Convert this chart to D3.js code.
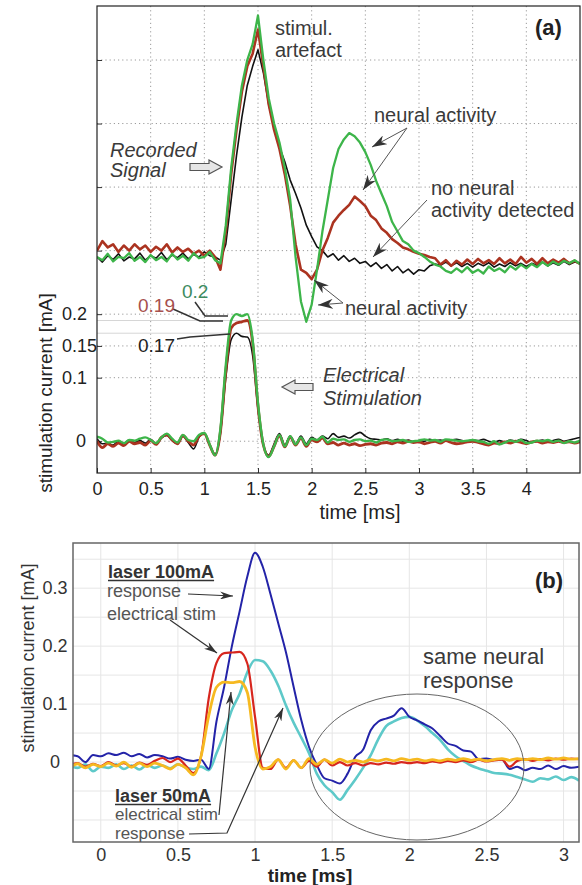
<!DOCTYPE html>
<html><head><meta charset="utf-8">
<script src="https://cdn.jsdelivr.net/npm/d3@7"></script>
<style>body{margin:0;background:#fff} svg{display:block} text{font-family:"Liberation Sans",Arial,Helvetica,sans-serif}</style>
</head><body><svg id="c" width="582" height="885"></svg>
<script>
// ---------------- DATA ----------------
// Panel (a): time base (ms), sampled every 0.05 ms from 0 to 4.5
const timeA = d3.range(0, 91).map(i => +(i * 0.05).toFixed(2));
const xTicksA = [0, 0.5, 1, 1.5, 2, 2.5, 3, 3.5, 4];
const yTicksA = [0, 0.1, 0.15, 0.2, 0.3, 0.4, 0.5, 0.6];
const yTickLabelsA = ["0", "0.1", "0.15", "0.2", "", "", "", ""];
const refLevelsA = [0.17, 0.19];

// Recorded signal (offset trace, drawn on the same axis)
const recGreen = [0.29,0.285,0.295,0.283,0.29,0.288,0.296,0.284,0.29,0.282,0.293,0.285,0.29,0.283,0.295,0.286,0.292,0.284,0.296,0.288,
 0.29,0.298,0.285,0.28,0.34,0.43,0.50,0.56,0.60,0.625,0.67,0.60,0.54,0.50,0.47,0.43,0.38,0.29,0.22,0.188,
 0.215,0.27,0.33,0.38,0.43,0.46,0.475,0.485,0.48,0.47,0.455,0.435,0.41,0.39,0.37,0.345,0.33,0.315,0.31,0.30,
 0.296,0.29,0.283,0.278,0.275,0.268,0.265,0.272,0.266,0.274,0.265,0.27,0.264,0.275,0.268,0.272,0.266,0.276,0.27,0.278,
 0.272,0.279,0.274,0.282,0.276,0.283,0.278,0.284,0.28,0.285,0.279];
const recRed = [0.30,0.315,0.305,0.31,0.298,0.308,0.30,0.31,0.302,0.308,0.298,0.306,0.30,0.31,0.297,0.305,0.298,0.303,0.295,0.30,
 0.292,0.30,0.29,0.27,0.33,0.42,0.49,0.55,0.59,0.61,0.648,0.59,0.53,0.49,0.46,0.42,0.37,0.31,0.27,0.265,
 0.255,0.27,0.30,0.32,0.344,0.355,0.364,0.372,0.385,0.378,0.37,0.355,0.348,0.335,0.328,0.318,0.312,0.305,0.302,0.298,
 0.295,0.293,0.29,0.288,0.278,0.285,0.276,0.284,0.278,0.286,0.279,0.287,0.28,0.285,0.279,0.288,0.28,0.286,0.279,0.29,
 0.281,0.287,0.279,0.288,0.28,0.286,0.281,0.287,0.28,0.284,0.279];
const recBlack = [0.29,0.282,0.292,0.286,0.295,0.284,0.29,0.287,0.296,0.285,0.292,0.288,0.297,0.286,0.293,0.289,0.296,0.287,0.294,0.29,
 0.298,0.292,0.29,0.285,0.31,0.38,0.45,0.51,0.56,0.59,0.616,0.58,0.53,0.495,0.463,0.44,0.411,0.39,0.367,0.34,
 0.322,0.306,0.30,0.29,0.295,0.285,0.292,0.283,0.288,0.28,0.283,0.275,0.281,0.272,0.278,0.268,0.275,0.265,0.271,0.263,
 0.27,0.268,0.276,0.279,0.277,0.282,0.276,0.281,0.275,0.28,0.274,0.28,0.276,0.281,0.274,0.279,0.275,0.281,0.276,0.28,
 0.275,0.28,0.277,0.282,0.276,0.281,0.277,0.283,0.278,0.282,0.28];

// Electrical stimulation current (mA)
const stimGreen = [0.007,0.004,-0.002,-0.001,0.001,-0.003,0.002,0.001,0.004,0.006,0.002,-0.003,0.006,0.012,0.004,-0.002,0.01,0.002,0.0,0.01,
 0.013,-0.005,-0.022,0.02,0.12,0.19,0.2,0.197,0.2,0.16,0.06,-0.005,-0.025,-0.008,0.01,-0.008,0.008,-0.005,0.006,-0.006,
 0.004,0.002,0.007,-0.002,0.004,0.002,0.003,-0.001,0.002,0.003,0.0,0.001,-0.002,0.002,0.003,0.0,0.001,0.002,-0.001,0.0,
 0.001,0.003,0.001,0.002,-0.001,0.003,0.002,0.001,0.0,0.001,0.002,0.0,-0.001,-0.004,0.0,-0.005,-0.002,0.001,-0.001,0.002,
 -0.003,-0.002,0.001,0.0,0.002,-0.001,0.001,-0.003,0.0,-0.002,0.001];
const stimRed = [0.0,-0.01,-0.004,-0.008,-0.003,-0.007,0.0,-0.004,-0.002,-0.006,0.001,-0.005,0.006,0.01,0.002,-0.004,0.009,0.0,-0.006,0.008,
 0.012,-0.006,-0.022,0.015,0.11,0.178,0.186,0.188,0.19,0.155,0.055,-0.006,-0.024,-0.008,0.009,-0.009,0.007,-0.006,0.005,-0.008,
 0.002,-0.001,0.005,-0.004,-0.002,-0.006,-0.003,-0.006,-0.004,-0.007,-0.005,-0.004,-0.006,-0.003,-0.002,-0.004,-0.001,-0.003,0.0,-0.002,
 -0.001,-0.004,-0.002,0.0,-0.003,0.001,-0.002,-0.004,-0.003,-0.001,0.0,-0.002,-0.004,-0.006,-0.003,-0.004,-0.001,-0.003,0.0,-0.002,
 -0.004,-0.001,0.0,-0.003,-0.001,-0.002,0.0,-0.002,-0.001,-0.003,-0.001];
const stimBlack = [0.004,-0.004,-0.003,-0.006,0.0,-0.004,0.002,-0.002,0.001,-0.003,0.003,-0.004,0.005,0.009,0.001,-0.004,0.008,-0.002,-0.012,0.006,
 0.013,-0.006,-0.02,0.012,0.1,0.16,0.17,0.165,0.164,0.135,0.05,-0.006,-0.022,-0.004,0.012,-0.006,0.008,-0.004,0.008,-0.004,
 0.006,0.002,0.008,0.004,0.012,0.006,0.008,0.005,0.01,0.014,0.008,0.004,0.003,0.002,0.004,0.001,0.003,0.0,0.002,-0.001,
 0.001,0.0,0.003,0.001,0.002,0.0,0.002,0.003,0.001,0.0,0.002,0.001,0.003,0.0,-0.002,0.001,-0.001,0.002,0.0,0.003,
 0.001,-0.002,0.0,0.002,-0.001,0.001,0.003,0.0,0.002,0.004,0.006];

// Panel (b): time base from -0.2 to 3.1 ms every 0.05 ms
const timeB = d3.range(0, 67).map(i => +(-0.2 + i * 0.05).toFixed(2));
const xTicksB = [0, 0.5, 1, 1.5, 2, 2.5, 3];
const yTicksB = [0, 0.1, 0.2, 0.3];
const yGridB = [-0.1, -0.05, 0, 0.05, 0.1, 0.15, 0.2, 0.25, 0.3, 0.35];

const resp100 = [0.012,0.01,0.0,0.012,0.01,0.015,0.012,0.016,0.01,0.014,0.008,0.012,0.01,0.006,0.009,0.004,0.002,0.004,-0.012,0.07,
 0.13,0.2,0.26,0.32,0.361,0.337,0.29,0.24,0.19,0.13,0.072,0.026,-0.005,-0.028,-0.032,-0.037,-0.02,0.009,0.021,0.055,
 0.07,0.075,0.08,0.093,0.078,0.072,0.065,0.058,0.045,0.032,0.028,0.02,0.018,0.005,0.006,0.004,0.005,-0.012,-0.008,-0.014,
 -0.01,-0.012,-0.006,-0.012,-0.007,-0.01,-0.008];
const resp50 = [-0.006,-0.01,-0.004,-0.016,-0.008,-0.01,-0.004,-0.012,-0.006,-0.013,-0.005,-0.01,-0.006,-0.011,-0.004,-0.009,-0.012,-0.008,-0.014,0.015,
 0.05,0.09,0.118,0.155,0.176,0.174,0.158,0.132,0.098,0.068,0.042,0.015,-0.02,-0.04,-0.052,-0.065,-0.048,-0.03,-0.01,0.012,
 0.04,0.062,0.07,0.076,0.078,0.072,0.062,0.05,0.038,0.022,0.01,0.002,-0.006,-0.011,-0.015,-0.019,-0.02,-0.022,-0.026,-0.03,
 -0.034,-0.028,-0.03,-0.025,-0.031,-0.026,-0.032];
const stim100 = [-0.005,-0.002,-0.008,-0.003,-0.007,0.0,-0.006,-0.002,-0.008,-0.001,-0.005,0.002,0.007,0.0,0.006,-0.006,-0.019,0.01,0.11,0.171,
 0.188,0.189,0.19,0.17,0.078,-0.01,-0.012,0.004,-0.01,0.003,-0.01,0.002,-0.008,0.004,-0.006,0.0,-0.006,-0.002,-0.006,-0.002,
 -0.004,-0.001,-0.003,0.0,-0.002,0.0,-0.002,0.001,-0.001,0.002,0.0,0.003,0.0,0.004,0.001,0.003,0.004,-0.008,0.002,0.005,
 0.002,0.005,0.003,0.006,0.004,0.006,0.005];
const stim50 = [-0.01,-0.003,-0.01,-0.004,-0.008,-0.002,-0.007,0.0,-0.009,-0.002,-0.008,-0.002,-0.006,-0.012,-0.004,-0.01,-0.022,0.01,0.08,0.129,
 0.138,0.137,0.139,0.12,0.026,-0.012,-0.008,0.004,-0.012,0.003,-0.01,0.006,-0.004,0.004,-0.002,0.005,0.0,0.003,0.0,0.004,
 0.002,0.005,0.002,0.006,0.003,0.005,0.002,0.004,0.002,0.005,0.003,0.006,0.003,0.005,0.002,0.004,0.006,0.003,0.006,0.004,
 0.006,0.004,0.007,0.005,0.007,0.005,0.006];

// ---------------- DRAWING ----------------
const svg = d3.select("#c");
const defs = svg.append("defs");
function marker(id, len, w, color) {
  defs.append("marker").attr("id", id).attr("markerUnits", "userSpaceOnUse")
    .attr("markerWidth", len).attr("markerHeight", w).attr("viewBox", `0 0 ${len} ${w}`)
    .attr("refX", len).attr("refY", w / 2).attr("orient", "auto")
    .append("path").attr("d", `M0,0 L${len},${w / 2} L0,${w} L${len * 0.3},${w / 2} Z`).attr("fill", color);
}
marker("arA", 15, 10, "#333");
marker("arB", 13, 8, "#333");

const FONT = '"Liberation Sans",Arial,Helvetica,sans-serif';
const cG = "#3db54a", cR = "#ab3320", cK = "#111";

// ===== Panel (a) =====
const xA = d3.scaleLinear([0, 4.5], [97, 580]);
const yA = d3.scaleLinear([-0.05, 0.685], [473, 6]);
defs.append("clipPath").attr("id", "clipA").append("rect")
  .attr("x", xA(0)).attr("y", yA(0.685)).attr("width", xA(4.5) - xA(0)).attr("height", yA(-0.05) - yA(0.685));

const gA = svg.append("g");
gA.selectAll(".vg").data(xTicksA.slice(1)).join("line")
  .attr("x1", d => xA(d)).attr("x2", d => xA(d)).attr("y1", yA(0.685)).attr("y2", yA(-0.05))
  .attr("stroke", "#9a9a9a").attr("stroke-width", 1).attr("stroke-dasharray", "1.2,3");
gA.selectAll(".hg").data(yTicksA).join("line")
  .attr("x1", xA(0)).attr("x2", xA(4.5)).attr("y1", d => yA(d)).attr("y2", d => yA(d))
  .attr("stroke", "#9a9a9a").attr("stroke-width", 1).attr("stroke-dasharray", "1.2,3");
gA.selectAll(".rl").data(refLevelsA).join("line")
  .attr("x1", xA(0)).attr("x2", xA(4.5)).attr("y1", d => yA(d)).attr("y2", d => yA(d))
  .attr("stroke", "#d6d6d6").attr("stroke-width", 1);

const axXA = gA.append("g").attr("transform", `translate(0,${yA(-0.05)})`)
  .call(d3.axisBottom(xA).tickValues(xTicksA).tickSize(-5).tickPadding(9).tickFormat(d3.format("")));
axXA.select(".domain").remove();
axXA.attr("font-family", FONT).attr("font-size", 18);
axXA.selectAll("text").attr("fill", "#222");
axXA.selectAll("line").attr("stroke", "#333");

const axYA = gA.append("g").attr("transform", `translate(${xA(0)},0)`)
  .call(d3.axisLeft(yA).tickValues(yTicksA).tickSize(-5).tickFormat((d, i) => yTickLabelsA[i]));
axYA.select(".domain").remove();
axYA.attr("font-family", FONT).attr("font-size", 18);
axYA.selectAll("line").attr("stroke", "#333");
axYA.selectAll("text").attr("fill", "#222").each(function (d) {
  const t = d3.select(this);
  if (d === 0) t.attr("text-anchor", "end").attr("x", -11);
  else t.attr("text-anchor", "start").attr("x", -35);
});

const lineA = d3.line().x((d, i) => xA(timeA[i])).y(d => yA(d));
const lineAs = d3.line().x((d, i) => xA(timeA[i])).y(d => yA(d)).curve(d3.curveMonotoneX);
const pA = gA.append("g").attr("clip-path", "url(#clipA)");
[[recBlack, cK, 1.6], [recRed, cR, 2.6], [recGreen, cG, 2.3]].forEach(([d, c, w]) =>
  pA.append("path").attr("d", lineA(d)).attr("fill", "none").attr("stroke", c).attr("stroke-width", w).attr("stroke-linejoin", "round"));
[[stimBlack, cK, 1.6], [stimRed, cR, 2.8], [stimGreen, cG, 2.4]].forEach(([d, c, w]) =>
  pA.append("path").attr("d", lineAs(d)).attr("fill", "none").attr("stroke", c).attr("stroke-width", w).attr("stroke-linejoin", "round"));

gA.append("rect").attr("x", xA(0)).attr("y", yA(0.685)).attr("width", xA(4.5) - xA(0)).attr("height", yA(-0.05) - yA(0.685))
  .attr("fill", "none").attr("stroke", "#222").attr("stroke-width", 1.2);

const annA = [
  { t: "stimul.", x: 275, y: 35, s: 20 },
  { t: "artefact", x: 275, y: 57, s: 20 },
  { t: "neural activity", x: 374, y: 122, s: 20 },
  { t: "no neural", x: 431, y: 195, s: 20 },
  { t: "activity detected", x: 431, y: 217, s: 20 },
  { t: "neural activity", x: 345, y: 315, s: 20 },
  { t: "Recorded", x: 110, y: 157, s: 20, it: 1 },
  { t: "Signal", x: 110, y: 177, s: 20, it: 1 },
  { t: "Electrical", x: 323, y: 382, s: 20, it: 1 },
  { t: "Stimulation", x: 323, y: 405, s: 20, it: 1 },
  { t: "(a)", x: 535, y: 35, s: 22, b: 1, c: "#222" },
  { t: "0.2", x: 182, y: 298, s: 19, c: "#3d8b5f" },
  { t: "0.19", x: 138, y: 312, s: 19, c: "#a6504d" },
  { t: "0.17", x: 138, y: 352, s: 19, c: "#222" }
];
const arrowsA = [
  [[407, 128], [372, 147]], [[407, 128], [363, 190]], [[427, 200], [373, 257]],
  [[343, 303], [314, 280]], [[343, 303], [318, 305]]
];
const leadersA = [
  [[195, 302], [205, 316], [228, 316]],
  [[173, 309], [200, 321], [223, 321]],
  [[177, 339], [190, 337], [230, 334]]
];
const blockArrows = [
  { x0: 190, x1: 222, y: 167, dir: 1 },
  { x0: 282, x1: 313, y: 387, dir: -1 }
];

function drawTexts(g, arr) {
  g.selectAll(null).data(arr).join("text")
    .attr("x", d => d.x).attr("y", d => d.y).attr("font-size", d => d.s)
    .attr("font-style", d => d.it ? "italic" : "normal").attr("font-weight", d => d.b ? "bold" : "normal")
    .attr("fill", d => d.c || "#3a3a3a").attr("font-family", FONT).text(d => d.t)
    .each(function (d) {
      if (d.u) {
        const w = this.getComputedTextLength();
        g.append("line").attr("x1", d.x).attr("x2", d.x + w).attr("y1", d.y + 2.5).attr("y2", d.y + 2.5)
          .attr("stroke", d.c || "#3a3a3a").attr("stroke-width", 1.5);
      }
    });
}
const lk = d3.line();
gA.selectAll(".ld").data(leadersA).join("path").attr("d", d => lk(d)).attr("fill", "none").attr("stroke", "#333").attr("stroke-width", 1.5);
gA.selectAll(".ar").data(arrowsA).join("path").attr("d", d => lk(d)).attr("fill", "none")
  .attr("stroke", "#555").attr("stroke-width", 1).attr("marker-end", "url(#arA)");
gA.selectAll(".ba").data(blockArrows).join("path").attr("d", d => {
  const h = 13, sh = 7;
  if (d.dir > 0) {
    const xs = d.x1 - h;
    return `M${d.x0},${d.y - sh / 2}H${xs}V${d.y - 7}L${d.x1},${d.y}L${xs},${d.y + 7}V${d.y + sh / 2}H${d.x0}Z`;
  } else {
    const xs = d.x0 + h;
    return `M${d.x1},${d.y - sh / 2}H${xs}V${d.y - 7}L${d.x0},${d.y}L${xs},${d.y + 7}V${d.y + sh / 2}H${d.x1}Z`;
  }
}).attr("fill", "#e6e6e6").attr("stroke", "#555").attr("stroke-width", 1.2);
drawTexts(gA, annA);

svg.append("text").attr("x", 360).attr("y", 519).attr("text-anchor", "middle").attr("font-size", 20)
  .attr("font-family", FONT).attr("fill", "#222").text("time [ms]");
svg.append("text").attr("transform", "translate(52,393) rotate(-90)").attr("text-anchor", "middle").attr("font-size", 19)
  .attr("font-family", FONT).attr("fill", "#222").text("stimulation current [mA]");

// ===== Panel (b) =====
const xB = d3.scaleLinear([-0.18, 3.1], [73, 579]);
const yB = d3.scaleLinear([-0.138, 0.378], [842, 543]);
defs.append("clipPath").attr("id", "clipB").append("rect")
  .attr("x", xB(-0.18)).attr("y", yB(0.378)).attr("width", xB(3.1) - xB(-0.18)).attr("height", yB(-0.138) - yB(0.378));
const gB = svg.append("g");
gB.selectAll(".vg").data(xTicksB).join("line")
  .attr("x1", d => xB(d)).attr("x2", d => xB(d)).attr("y1", yB(0.378)).attr("y2", yB(-0.138))
  .attr("stroke", "#e6e6e6").attr("stroke-width", 1);
gB.selectAll(".hg").data(yGridB).join("line")
  .attr("x1", xB(-0.18)).attr("x2", xB(3.1)).attr("y1", d => yB(d)).attr("y2", d => yB(d))
  .attr("stroke", "#e6e6e6").attr("stroke-width", 1);

const axXB = gB.append("g").attr("transform", `translate(0,${yB(-0.138)})`)
  .call(d3.axisBottom(xB).tickValues(xTicksB).tickSize(0).tickPadding(6).tickFormat(d3.format("")));
axXB.select(".domain").remove();
axXB.attr("font-family", FONT).attr("font-size", 18);
axXB.selectAll("text").attr("fill", "#333");
const axYB = gB.append("g").attr("transform", `translate(${xB(-0.18)},0)`)
  .call(d3.axisLeft(yB).tickValues(yTicksB).tickSize(0).tickFormat(d3.format("")));
axYB.select(".domain").remove();
axYB.attr("font-family", FONT).attr("font-size", 18);
axYB.selectAll("text").attr("fill", "#333").attr("text-anchor", "middle").attr("x", -18);

const lineB = d3.line().x((d, i) => xB(timeB[i])).y(d => yB(d)).curve(d3.curveMonotoneX);
const pB = gB.append("g").attr("clip-path", "url(#clipB)");
[[resp50, "#5ec9c9", 2.6], [resp100, "#2323a8", 2], [stim100, "#d7261e", 2.2], [stim50, "#f6b920", 2.8]].forEach(([d, c, w]) =>
  pB.append("path").attr("d", lineB(d)).attr("fill", "none").attr("stroke", c).attr("stroke-width", w).attr("stroke-linejoin", "round"));

gB.append("rect").attr("x", xB(-0.18)).attr("y", yB(0.378)).attr("width", xB(3.1) - xB(-0.18)).attr("height", yB(-0.138) - yB(0.378))
  .attr("fill", "none").attr("stroke", "#666").attr("stroke-width", 1.5);

gB.append("ellipse").attr("cx", 417).attr("cy", 767).attr("rx", 107).attr("ry", 73)
  .attr("fill", "none").attr("stroke", "#666").attr("stroke-width", 1);

const annB = [
  { t: "(b)", x: 535, y: 588, s: 22, b: 1, c: "#222" },
  { t: "same neural", x: 423, y: 664, s: 22 },
  { t: "response", x: 423, y: 688, s: 22 },
  { t: "laser 100mA", x: 108, y: 578, s: 18, b: 1, u: 1, c: "#333" },
  { t: "response", x: 107, y: 597, s: 18, c: "#555" },
  { t: "electrical stim", x: 107, y: 620, s: 18, c: "#555" },
  { t: "laser 50mA", x: 115, y: 802, s: 18, b: 1, u: 1, c: "#333" },
  { t: "electrical stim", x: 115, y: 820, s: 17, c: "#555" },
  { t: "response", x: 115, y: 839, s: 17, c: "#555" }
];
const arrowsB = [
  [[188, 594], [233, 596]],
  [[170, 620], [217, 653]],
  [[219, 815], [231, 692]],
  [[189, 834], [227, 833], [283, 708]]
];
gB.selectAll(".ar").data(arrowsB).join("path").attr("d", d => lk(d)).attr("fill", "none")
  .attr("stroke", "#333").attr("stroke-width", 1.2).attr("marker-end", "url(#arB)");
drawTexts(gB, annB);

svg.append("text").attr("x", 310).attr("y", 882).attr("text-anchor", "middle").attr("font-size", 19).attr("font-weight", "bold")
  .attr("font-family", FONT).attr("fill", "#222").text("time [ms]");
svg.append("text").attr("transform", "translate(34,658) rotate(-90)").attr("text-anchor", "middle").attr("font-size", 18)
  .attr("font-family", FONT).attr("fill", "#333").text("stimulation current [mA]");
</script></body></html>
